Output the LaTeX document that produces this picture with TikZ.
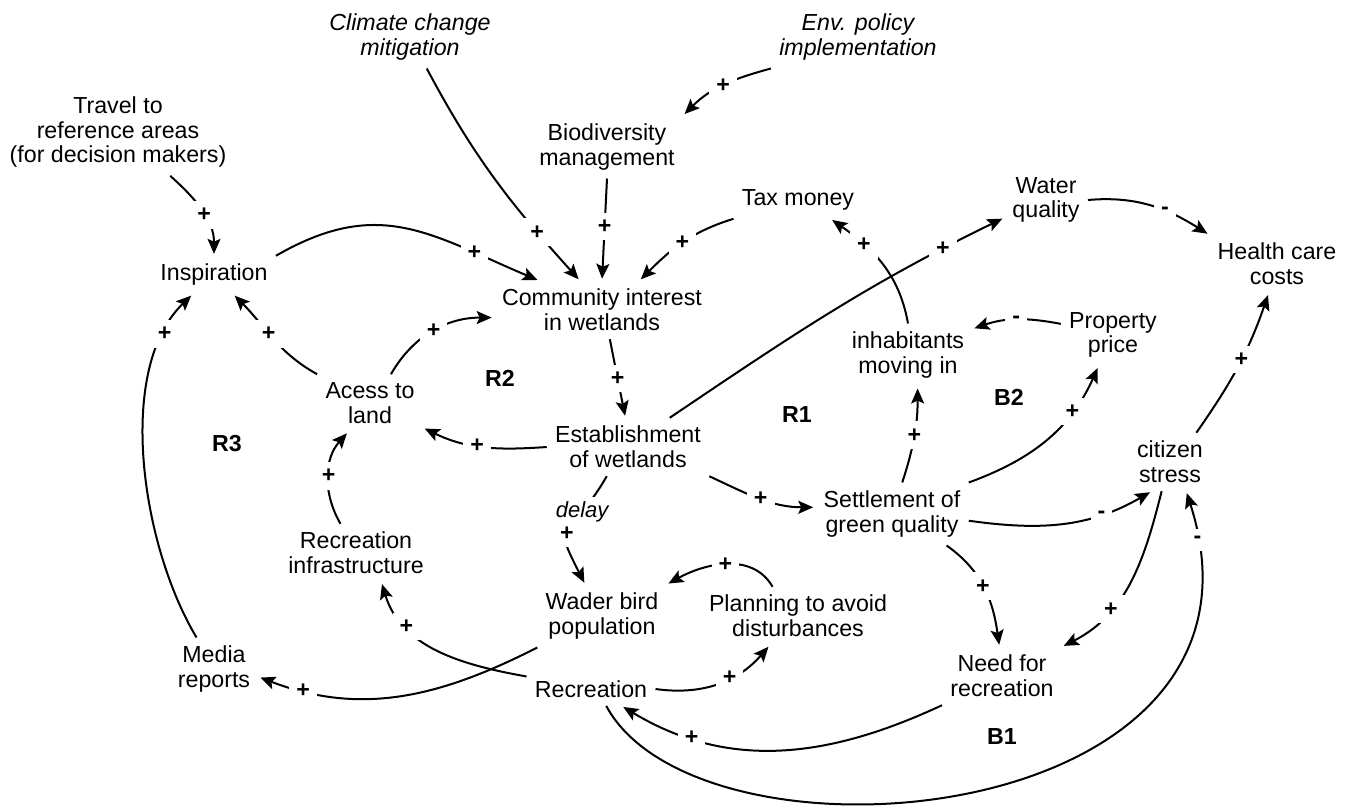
\documentclass[tikz,border=0pt]{standalone}
\usepackage{fontspec}
\setmainfont{Liberation Sans}
\usetikzlibrary{arrows.meta}
\newcommand\varfont{\fontsize{11.6}{12.3}\selectfont}

\begin{document}
\begin{tikzpicture}[
  x=0.5pt, y=-0.5pt,
  font=\varfont,
  >={Stealth[length=7.5pt,width=6.5pt,inset=1.5pt]},
  var/.style={align=center, inner sep=4pt},
  ext/.style={var, font=\varfont\itshape},
  looplbl/.style={font=\varfont\bfseries},
  link/.style={->, line width=1pt, shorten >=1pt},
  pol/.style={fill=white, inner sep=3.5pt, font=\varfont\bfseries},
  lag/.style={fill=white, inner sep=2pt, font=\fontsize{11}{11}\selectfont\itshape}
]
\useasboundingbox (0,0) rectangle (1350,808);

% Outside drivers
\node[ext] (clim) at (410,37) {Climate change\\mitigation};
\node[ext] (envp) at (858,37) {Env. policy\\implementation};
\node[var] (travel) at (118,132) {Travel to\\reference areas\\(for decision makers)};
\node[var] (biod) at (607,147) {Biodiversity\\management};
\node[var] (tax) at (798,200) {Tax money};
\node[var] (water) at (1046,200) {Water\\quality};
\node[var] (health) at (1277,264) {Health care\\costs};

% Core variables
\node[var] (insp) at (214,275) {Inspiration};
\node[var] (comm) at (602,310) {Community interest\\in wetlands};
\node[var] (prop) at (1113,335) {Property\\price};
\node[var] (inhab) at (908,355) {inhabitants\\moving in};
\node[var] (access) at (370,403) {Acess to\\land};
\node[var] (estab) at (628,447) {Establishment\\of wetlands};
\node[var] (stress) at (1170,462) {citizen\\stress};
\node[var] (settle) at (892,514) {Settlement of\\green quality};
\node[var] (recinf) at (356,553) {Recreation\\infrastructure};
\node[var] (wader) at (602,616) {Wader bird\\population};
\node[var] (plan) at (798,616) {Planning to avoid\\disturbances};
\node[var] (media) at (214,669) {Media\\reports};
\node[var] (need) at (1002,676) {Need for\\recreation};
\node[var] (recr) at (591,689) {Recreation};

% Loop names
\node[looplbl] (r2) at (500,378) {R2};
\node[looplbl] (r1) at (797,415) {R1};
\node[looplbl] (b2) at (1009,397) {B2};
\node[looplbl] (r3) at (227,444) {R3};
\node[looplbl] (b1) at (1002,737) {B1};

% Links into community interest
\draw[link] (clim.-62) to[out=-62,in=132] node[pol,pos=.77] {+} (comm.127);
\draw[link] (envp.south west) to[out=195,in=45] node[pol,pos=.5] {+} (biod.north east);
\draw[link] (travel.-40) to[out=-42,in=90] node[pol,pos=.55] {+} (insp.north);
\draw[link] (biod.south) -- node[pol,pos=.47] {+} (comm.north);
\draw[link] (tax.south west) to[out=197,in=45] node[pol,pos=.5] {+} (comm.38);
\draw[link] (insp.north east) to[out=30,in=157,looseness=1.15] node[pol,pos=.78] {+} (comm.155);
\draw[link] (access.54) to[out=60,in=180] node[pol,pos=.5] {+} (comm.184);
\draw[link] (comm.-75) -- node[pol,pos=.5] {+} (estab.95);

% R1 / B2 side
\draw[link] (estab.35) to[out=34,in=-154] node[pol,pos=.84] {+} (water.203);
\draw[link] (inhab.north) to[out=100,in=-35] node[pol,pos=.7] {+} (tax.-30);
\draw[link] (water.east) to[out=5,in=148] node[pol,pos=.62] {-} (health.north west);
\draw[link] (prop.168) to[out=169,in=19] node[pol,pos=.5] {-} (inhab.22);
\draw[link] (estab.south east) to[out=-25,in=180] node[pol,pos=.5] {+} (settle.175);
\draw[link] (settle.72) to[out=72,in=-90] node[pol,pos=.5] {+} (inhab.-73);
\draw[link] (settle.north east) to[out=20,in=-114] node[pol,pos=.72] {+} (prop.-115);
\draw[link] (settle.-5) to[out=-8,in=-150] node[pol,pos=.72] {-} (stress.-122);
\draw[link] (stress.48) to[out=55,in=-109] node[pol,pos=.55] {+} (health.-106);
\draw[link] (settle.-30) to[out=-35,in=98] node[pol,pos=.47] {+} (need.95);
\draw[link] (stress.-106) to[out=-104,in=27] node[pol,pos=.68] {+} (need.north east);

% R2 / R3 side
\draw[link] (access.north west) to[out=151,in=-45] node[pol,pos=.55] {+} (insp.-45);
\draw[link] (estab.west) to[out=184,in=-26] node[pol,pos=.55] {+} (access.-25);
\draw[link] (recinf.118) to[out=120,in=-132] node[pol,pos=.5] {+} (access.-127);
\draw[link] (estab.-126) to[out=-120,in=117,looseness=1.8]
  node[lag,pos=.25] {delay} node[pol,pos=.56] {+} (wader.118);
\draw[link] (media.119) to[out=121,in=-136,looseness=.8] node[pol,pos=.85] {+} (insp.-138);

% Recreation part, B1
\draw[link] (need.south west) to[out=205,in=-31] node[pol,pos=.78] {+} (recr.-29);
\draw[link] (recr.east) to[out=-8,in=-131] node[pol,pos=.6] {+} (plan.-134);
\draw[link] (plan.131) to[out=120,in=29] node[pol,pos=.5] {+} (wader.north east);
\draw[link] (recr.169) to[out=170,in=-73] node[pol,pos=.72] {+} (recinf.-49);
\draw[link] (wader.south west) to[out=207,in=-21] node[pol,pos=.85] {+} (media.-10);
\draw[link] (recr.-48) .. controls (700,880) and (1295,830) .. node[pol,pos=.95] {-} (stress.-61);

\end{tikzpicture}
\end{document}
